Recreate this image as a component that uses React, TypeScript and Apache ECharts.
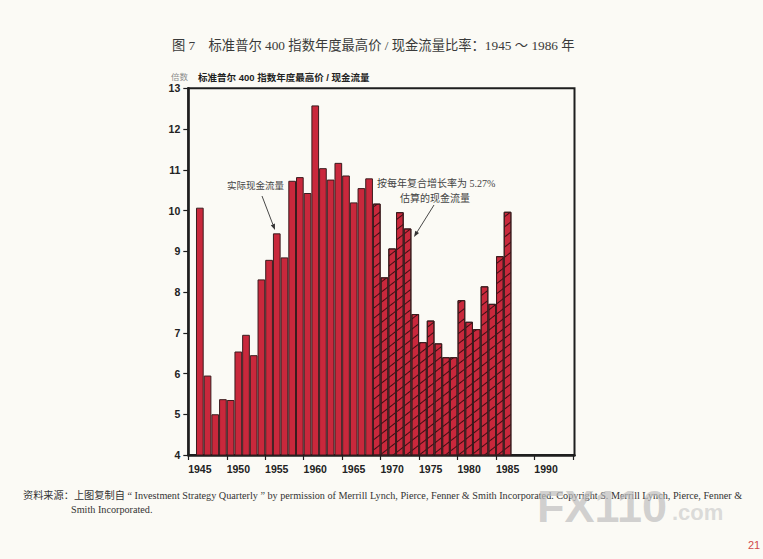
import React, { useEffect, useRef } from "react";
import * as echarts from "echarts";

const years = [
  1945, 1946, 1947, 1948, 1949, 1950, 1951, 1952, 1953, 1954, 1955, 1956, 1957, 1958,
  1959, 1960, 1961, 1962, 1963, 1964, 1965, 1966, 1967, 1968, 1969, 1970, 1971, 1972,
  1973, 1974, 1975, 1976, 1977, 1978, 1979, 1980, 1981, 1982, 1983, 1984, 1985,
];
// 1945–1967: actual cash flow
const ratioActual = [
  10.07, 5.95, 5.0, 5.37, 5.35, 6.54, 6.95, 6.45, 8.31, 8.79, 9.44, 8.85, 10.73, 10.82,
  10.43, 12.58, 11.04, 10.76, 11.17, 10.86, 10.2, 10.55, 10.79,
];
// 1968–1985: cash flow estimated at 5.27% compound growth
const ratioEstimated = [
  10.17, 8.36, 9.07, 9.96, 9.56, 7.46, 6.77, 7.3, 6.74, 6.4, 6.4, 7.8, 7.27, 7.09, 8.14,
  7.71, 8.88, 9.97,
];
const yTicks = [4, 5, 6, 7, 8, 9, 10, 11, 12, 13];
const xLabelYears = [1945, 1950, 1955, 1960, 1965, 1970, 1975, 1980, 1985, 1990];
const xTickPositions = [1943.5, 1948.5, 1953.5, 1958.5, 1963.5, 1968.5, 1973.5, 1978.5, 1983.5, 1988.5, 1993.5];

const titleText = "图 7　标准普尔 400 指数年度最高价 / 现金流量比率：1945 ～ 1986 年";
const unitText = "倍数";
const subTitleText = "标准普尔 400 指数年度最高价 / 现金流量";
const noteActual = "实际现金流量";
const noteEst1 = "按每年复合增长率为 5.27%";
const noteEst2 = "估算的现金流量";
const sourceLine1 =
  "资料来源：上图复制自 “ Investment Strategy Quarterly ” by permission of Merrill Lynch, Pierce, Fenner & Smith Incorporated. Copyright S. Merrill Lynch, Pierce, Fenner &";
const sourceLine2 = "Smith Incorporated.";

const SERIF = "'Liberation Serif', 'Noto Sans CJK SC', serif";
const SANS = "'Liberation Sans', 'Noto Sans CJK SC', sans-serif";

export default function App() {
  const ref = useRef<HTMLDivElement>(null);
  useEffect(() => {
    if (!ref.current) return;
    const chart = echarts.init(ref.current, null, { renderer: "svg" });
    const hatch = {
      symbol: "rect",
      symbolSize: 1,
      color: "rgba(45,12,16,0.9)",
      dashArrayX: [[1, 0]],
      dashArrayY: [0.9, 6.6],
      rotation: -Math.PI * 0.21,
    };
    const barData = years.map((y, i) => {
      if (i < ratioActual.length) {
        return { value: [y, ratioActual[i]] };
      }
      return {
        value: [y, ratioEstimated[i - ratioActual.length]],
        itemStyle: { decal: hatch },
      };
    });
    const text = (t: string, x: number, y: number, font: string, fill: string, z = 100) => ({
      type: "text",
      x,
      y,
      z,
      style: {
        text: t,
        font,
        fill,
        align: "left",
        verticalAlign: "middle",
        textAlign: "left",
        textVerticalAlign: "middle",
      },
    });
    const arrow = (x1: number, y1: number, x2: number, y2: number) => {
      const dx = x2 - x1;
      const dy = y2 - y1;
      const len = Math.sqrt(dx * dx + dy * dy);
      const ux = dx / len;
      const uy = dy / len;
      const bx = x2 - 6 * ux;
      const by = y2 - 6 * uy;
      const px = -uy;
      const py = ux;
      return [
        {
          type: "line",
          z: 100,
          shape: { x1, y1, x2: bx, y2: by },
          style: { stroke: "#333", lineWidth: 0.9 },
        },
        {
          type: "polygon",
          z: 100,
          shape: {
            points: [
              [x2, y2],
              [bx + 2.2 * px, by + 2.2 * py],
              [bx - 2.2 * px, by - 2.2 * py],
            ],
          },
          style: { fill: "#333" },
        },
      ];
    };
    chart.setOption({
      animation: false,
      backgroundColor: "#fbfaf5",
      grid: {
        left: 188.3,
        top: 88.3,
        right: 763 - 574.5,
        bottom: 559 - 455,
        show: true,
        borderColor: "#1e1e1e",
        borderWidth: 2,
        backgroundColor: "transparent",
      },
      xAxis: {
        type: "value",
        min: 1943.5,
        max: 1993.7,
        splitLine: { show: false },
        axisLine: { show: true, lineStyle: { color: "#1e1e1e", width: 2.5 } },
        axisTick: {
          show: true,
          length: 5,
          customValues: xTickPositions,
          lineStyle: { color: "#1e1e1e", width: 1.2 },
        },
        axisLabel: {
          customValues: xLabelYears,
          margin: 9,
          color: "#222",
          fontFamily: SANS,
          fontWeight: "bold",
          fontSize: 10.5,
          formatter: (v: number) => String(v),
        },
      },
      yAxis: {
        type: "value",
        min: 4,
        max: 13,
        interval: 1,
        splitLine: { show: false },
        axisLine: { show: true, lineStyle: { color: "#1e1e1e", width: 2.5 } },
        axisTick: {
          show: true,
          length: 5,
          customValues: yTicks,
          lineStyle: { color: "#1e1e1e", width: 1.2 },
        },
        axisLabel: {
          margin: 8,
          color: "#222",
          fontFamily: SANS,
          fontWeight: "bold",
          fontSize: 10.5,
        },
      },
      series: [
        {
          type: "bar",
          barWidth: 7.69,
          data: barData,
          itemStyle: {
            color: "#c9283c",
            borderColor: "#3a1c1e",
            borderWidth: 1,
          },
        },
      ],
      graphic: [
        text(titleText, 172, 45, `13.3px ${SERIF}`, "#3a3a3a"),
        text(unitText, 171, 77, `8.5px ${SANS}`, "#8a8a8a"),
        text(subTitleText, 198, 77, `bold 9.5px ${SANS}`, "#222"),
        text(noteActual, 227, 186, `9.5px ${SERIF}`, "#444"),
        text(noteEst1, 377, 183, `10px ${SERIF}`, "#444"),
        text(noteEst2, 400, 198, `10px ${SERIF}`, "#444"),
        ...arrow(262, 196, 275, 230),
        ...arrow(434, 205, 414, 237),
        text(sourceLine1, 23, 495, `10.2px ${SERIF}`, "#333", 90),
        text(sourceLine2, 71, 509, `10.2px ${SERIF}`, "#333", 90),
        text("FX110", 537, 506, `bold 45px ${SANS}`, "rgba(190,190,190,0.7)", 95),
        text(".com", 672, 512, `bold 22px ${SANS}`, "rgba(205,205,205,0.7)", 95),
        text("21", 748, 545, `11px ${SANS}`, "#d24a4a"),
      ],
    });
    return () => chart.dispose();
  }, []);
  return (
    <div
      ref={ref}
      style={{ position: "absolute", left: 0, top: 0, width: 763, height: 559 }}
    />
  );
}
